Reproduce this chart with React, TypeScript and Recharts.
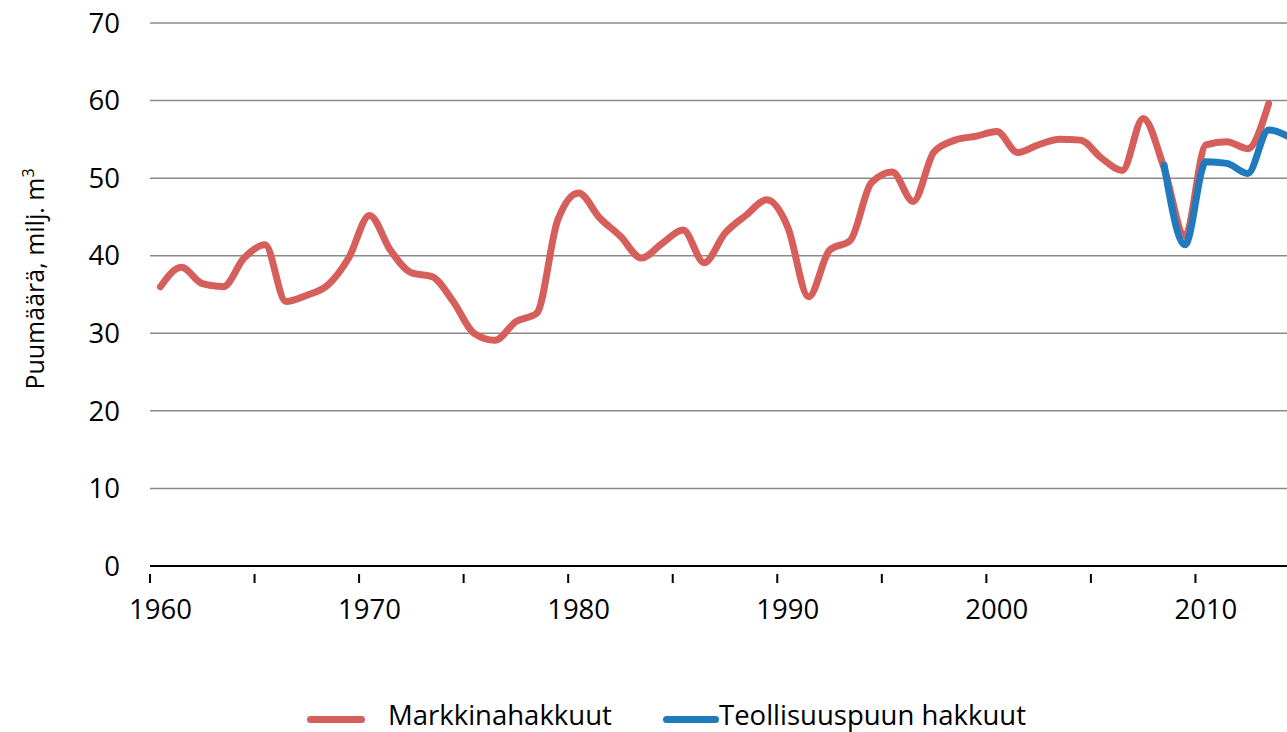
import { LineChart, Line, XAxis, YAxis, CartesianGrid } from "recharts"

// years on the category axis
const years = [
  1960, 1961, 1962, 1963, 1964, 1965, 1966, 1967, 1968, 1969,
  1970, 1971, 1972, 1973, 1974, 1975, 1976, 1977, 1978, 1979,
  1980, 1981, 1982, 1983, 1984, 1985, 1986, 1987, 1988, 1989,
  1990, 1991, 1992, 1993, 1994, 1995, 1996, 1997, 1998, 1999,
  2000, 2001, 2002, 2003, 2004, 2005, 2006, 2007, 2008, 2009,
  2010, 2011, 2012, 2013, 2014,
]

// Markkinahakkuut, 1960-2013
const markkina = [
  36.0, 38.5, 36.4, 36.0, 39.7, 41.4, 34.1, 34.9, 36.2, 39.7,
  45.2, 40.7, 37.8, 37.3, 34.1, 30.0, 29.1, 31.5, 32.6, 44.6,
  48.1, 44.9, 42.5, 39.7, 41.6, 43.3, 39.1, 42.9, 45.2, 47.2,
  43.7, 34.7, 40.7, 42.0, 49.4, 50.8, 47.0, 53.4, 54.9, 55.4,
  56.0, 53.3, 54.3, 55.0, 54.9, 52.6, 51.0, 57.7, 51.3, 42.5,
  54.3, 54.7, 53.8, 59.6,
]

// Teollisuuspuun hakkuut, 2008-2014
const teollisuusStart = 2008
const teollisuus = [51.7, 41.4, 52.1, 51.9, 50.6, 56.2, 55.3]

const yTicks = [0, 10, 20, 30, 40, 50, 60, 70]
const xMarks = [1959.5, 1964.5, 1969.5, 1974.5, 1979.5, 1984.5, 1989.5, 1994.5, 1999.5, 2004.5, 2009.5]

const RED = "#d65f5b"
const BLUE = "#1f7bbd"
const FONT = "'Open Sans', sans-serif"

const data = years.map((year, i) => {
  const j = year - teollisuusStart
  return {
    year,
    markkina: i < markkina.length ? markkina[i] : null,
    teollisuus: j >= 0 && j < teollisuus.length ? teollisuus[j] : null,
  }
})

const PLOT_W = 1150
const HALF_STEP = PLOT_W / 55 / 2

// tick marks sit between categories, labels on the category itself
const XTick = ({ x, y, payload }: any) => {
  const label = payload.value + 0.5
  return (
    <g>
      <line x1={x} y1={y} x2={x} y2={y + 9} stroke="#000" strokeWidth={2} />
      {label % 10 === 0 && (
        <text x={x + HALF_STEP} y={y + 45} textAnchor="middle" fontSize={27.5} fontFamily={FONT} fill="#000">
          {label}
        </text>
      )}
    </g>
  )
}

export default function App() {
  return (
    <div style={{ position: "absolute", left: 0, top: 0, width: 1287, height: 732, overflow: "hidden", background: "#fff" }}>
      <LineChart width={1300} height={732} data={data} margin={{ top: 23, right: 0, bottom: 106, left: 0 }}>
        <CartesianGrid vertical={false} stroke="#8a8a8a" strokeWidth={1.5} />
        <XAxis
          dataKey="year"
          type="number"
          domain={[1959.5, 2014.5]}
          ticks={xMarks}
          tick={<XTick />}
          tickLine={false}
          axisLine={{ stroke: "#000", strokeWidth: 2 }}
          height={60}
          interval={0}
        />
        <YAxis
          domain={[0, 70]}
          ticks={yTicks}
          width={150}
          axisLine={false}
          tickLine={false}
          tickSize={0}
          tickMargin={30}
          tick={{ fontSize: 27.5, fontFamily: FONT, fill: "#000" }}
          label={{
            content: () => (
              <text
                x={44}
                y={279}
                transform="rotate(-90 44 279)"
                textAnchor="middle"
                fontSize={25}
                fontFamily={FONT}
                fill="#000"
              >
                Puumäärä, milj. m
                <tspan dy={-10} fontSize={16}>3</tspan>
              </text>
            ),
          }}
        />
        <Line
          type="monotone"
          dataKey="markkina"
          stroke={RED}
          strokeWidth={7}
          strokeLinecap="round"
          dot={false}
          isAnimationActive={false}
        />
        <Line
          type="monotone"
          dataKey="teollisuus"
          stroke={BLUE}
          strokeWidth={7}
          strokeLinecap="round"
          dot={false}
          isAnimationActive={false}
        />
      </LineChart>
      <div style={{ position: "absolute", left: 0, top: 700, width: 1287, height: 30, fontFamily: FONT, fontSize: 27.5, color: "#000" }}>
        <div style={{ position: "absolute", left: 307, top: 16, width: 58, height: 7, borderRadius: 4, background: RED }} />
        <div style={{ position: "absolute", left: 388, top: 0, lineHeight: "30px", whiteSpace: "nowrap" }}>Markkinahakkuut</div>
        <div style={{ position: "absolute", left: 663, top: 16, width: 56, height: 7, borderRadius: 4, background: BLUE }} />
        <div style={{ position: "absolute", left: 719, top: 0, lineHeight: "30px", whiteSpace: "nowrap" }}>Teollisuuspuun hakkuut</div>
      </div>
    </div>
  )
}
